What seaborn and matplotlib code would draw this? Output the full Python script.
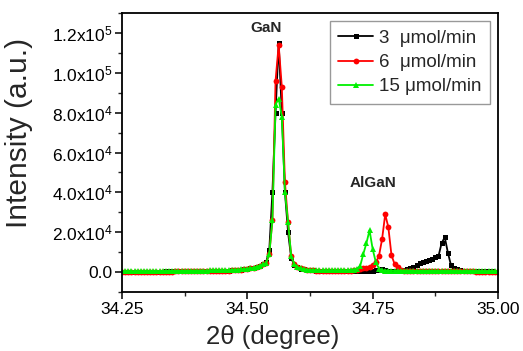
import numpy as np
import pandas as pd
import matplotlib
matplotlib.use("Agg")
import matplotlib.pyplot as plt
from matplotlib.ticker import MultipleLocator, FixedLocator, FixedFormatter
import seaborn as sns

# ---------------- data ----------------
# scan grid: 34.25 .. 35.00 deg, 121 points (step 0.00625 deg)
two_theta = np.linspace(34.25, 35.00, 121)

black_3 = [
    200, 200, 210, 220, 220, 230, 240, 250,
    250, 260, 270, 280, 290, 300, 310, 320,
    330, 340, 350, 370, 380, 400, 410, 430,
    450, 470, 490, 510, 540, 570, 600, 640,
    680, 730, 790, 860, 940, 1050, 1200, 1400,
    1650, 1950, 2300, 2700, 3000, 4000, 5000, 11000,
    40000, 80000, 115000, 80000, 40000, 20000, 7000, 3500,
    2400, 1800, 1400, 1150, 950, 820, 720, 650,
    600, 560, 530, 500, 480, 460, 450, 440,
    430, 420, 420, 430, 450, 480, 520, 600,
    700, 1000, 1300, 1400, 1100, 700, 550, 500,
    480, 600, 1000, 1400, 1900, 2500, 3500, 4400,
    5000, 5600, 6000, 6500, 7500, 8000, 14500, 17500,
    9800, 3400, 2000, 1500, 900, 700, 550, 450,
    400, 380, 360, 340, 330, 320, 310, 300, 300,
]

red_6 = [
    150, 160, 170, 170, 180, 190, 200, 210,
    220, 230, 240, 250, 260, 270, 280, 290,
    300, 310, 320, 340, 350, 370, 390, 410,
    430, 450, 470, 490, 520, 550, 580, 620,
    660, 710, 770, 840, 920, 1020, 1150, 1320,
    1550, 1850, 2200, 2700, 3300, 3900, 4500, 9000,
    26000, 96000, 114000, 93000, 45000, 25000, 8000, 4000,
    2600, 1900, 1450, 1150, 950, 820, 720, 650,
    600, 560, 530, 510, 500, 520, 560, 620,
    700, 800, 1000, 1200, 1500, 1900, 2300, 2800,
    3500, 5000, 8000, 16500, 29000, 22500, 8500, 4000,
    2500, 1000, 700, 600, 550, 520, 500, 480,
    470, 460, 450, 440, 430, 420, 410, 400,
    390, 380, 370, 360, 350, 340, 330, 320,
    310, 300, 300, 290, 280, 280, 270, 260, 260,
]

green_15 = [
    500, 500, 510, 510, 520, 520, 530, 530,
    540, 540, 550, 560, 570, 580, 590, 600,
    610, 620, 630, 640, 650, 660, 680, 700,
    720, 740, 760, 790, 820, 850, 880, 920,
    960, 1000, 1050, 1100, 1180, 1260, 1350, 1500,
    1700, 2000, 2300, 2700, 3300, 3900, 4500, 9000,
    26000, 84000, 87000, 78000, 40000, 25000, 8000, 4000,
    2600, 1900, 1500, 1250, 1100, 1000, 950, 900,
    880, 860, 850, 850, 860, 880, 900, 950,
    1000, 1100, 1300, 1700, 3000, 9000, 14500, 21000,
    11500, 5000, 1800, 900, 800, 750, 720, 700,
    690, 680, 670, 660, 650, 640, 630, 620,
    610, 600, 600, 590, 590, 580, 580, 570,
    570, 560, 560, 550, 550, 540, 540, 530,
    530, 520, 520, 510, 510, 500, 500, 500, 500,
]

series_labels = ["3  \u03bcmol/min", "6  \u03bcmol/min", "15 \u03bcmol/min"]
x_ticks = [34.25, 34.50, 34.75, 35.00]
x_tick_labels = ["34.25", "34.50", "34.75", "35.00"]
y_ticks = [0, 20000, 40000, 60000, 80000, 100000, 120000]
y_tick_labels = ["0.0", "2.0x10$^4$", "4.0x10$^4$", "6.0x10$^4$",
                 "8.0x10$^4$", "1.0x10$^5$", "1.2x10$^5$"]
peak_labels = ["GaN", "AlGaN"]

# ---------------- style ----------------
sns.set_style("ticks")
plt.rcParams["font.family"] = ["Liberation Sans", "DejaVu Sans"]
plt.rcParams["mathtext.fontset"] = "custom"
plt.rcParams["mathtext.rm"] = "Liberation Sans"
plt.rcParams["mathtext.it"] = "Liberation Sans:italic"
plt.rcParams["mathtext.bf"] = "Liberation Sans:bold"

fig = plt.figure(figsize=(5.23, 3.51), dpi=100)
ax = fig.add_axes([0.2333, 0.168, 0.7189, 0.795])

df = pd.DataFrame({"two_theta": two_theta, "b": black_3, "r": red_6, "g": green_15})

styles = [("b", "#000000", "s", 3.6, series_labels[0]),
          ("r", "#ff0000", "o", 4.2, series_labels[1]),
          ("g", "#00f000", "^", 4.6, series_labels[2])]
for col, color, mk, ms, lab in styles:
    sns.lineplot(data=df, x="two_theta", y=col, ax=ax, color=color, marker=mk,
                 markersize=ms, markeredgewidth=0, linewidth=1.3, label=lab)

ax.set_xlim(34.25, 35.00)
ax.set_ylim(-10000, 130000)
ax.xaxis.set_major_locator(FixedLocator(x_ticks))
ax.xaxis.set_major_formatter(FixedFormatter(x_tick_labels))
ax.xaxis.set_minor_locator(MultipleLocator(0.125))
ax.yaxis.set_major_locator(FixedLocator(y_ticks))
ax.yaxis.set_major_formatter(FixedFormatter(y_tick_labels))
ax.yaxis.set_minor_locator(MultipleLocator(10000))

ax.tick_params(axis="both", which="major", direction="out", length=5, width=1.1,
               labelsize=12.5, colors="#000000", top=False, right=False, pad=2)
ax.tick_params(axis="both", which="minor", direction="out", length=3, width=1.0,
               top=False, right=False)
for s in ax.spines.values():
    s.set_linewidth(1.3)
    s.set_color("#000000")

ax.set_xlabel("2\u03b8 (degree)", fontsize=18.5)
ax.set_ylabel("Intensity (a.u.)", fontsize=21.5)
ax.xaxis.set_label_coords(0.40, -0.118)
ax.yaxis.set_label_coords(-0.237, 0.57)

ax.text(34.538, 122500, peak_labels[0], fontsize=11, fontweight="bold",
        ha="center", va="center")
ax.text(34.75, 44500, peak_labels[1], fontsize=11, fontweight="bold",
        ha="center", va="center")

leg = ax.legend(loc="upper right", fontsize=13.5, frameon=True, fancybox=False,
                edgecolor="#808080", handlelength=1.85, handletextpad=0.3,
                borderpad=0.45, labelspacing=0.38, borderaxespad=0.45,
                numpoints=1)
leg.get_frame().set_linewidth(1.0)

fig.savefig("out.png", dpi=100)
